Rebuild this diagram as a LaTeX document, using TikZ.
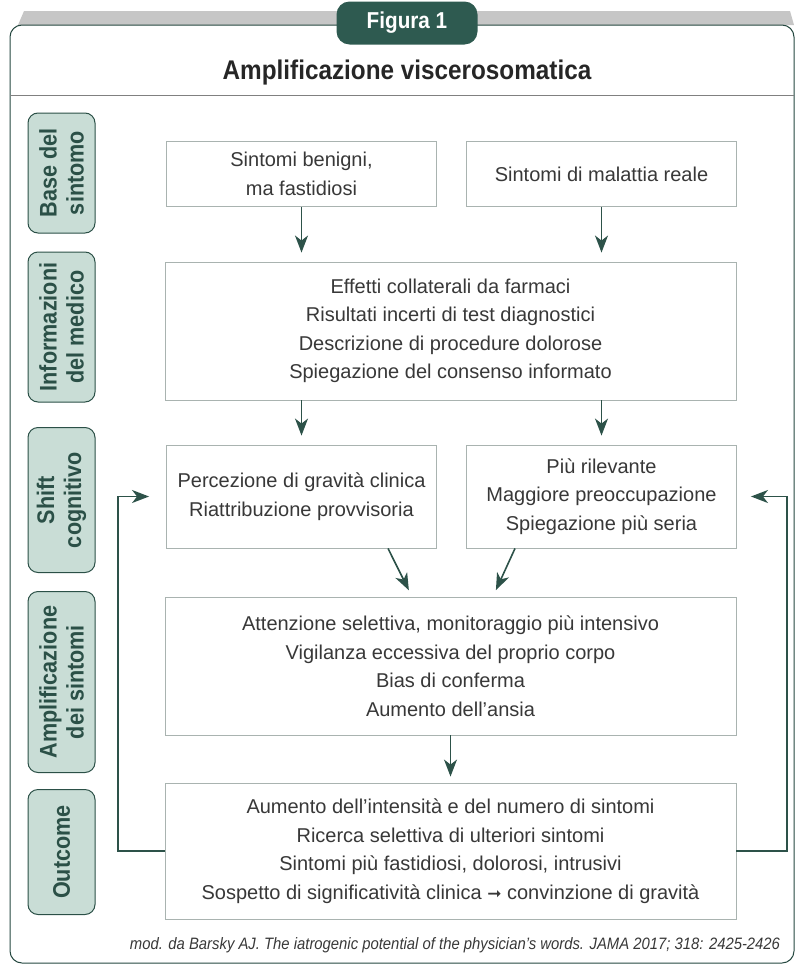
\documentclass[tikz,border=0pt]{standalone}
\usepackage{fontspec}
\setmainfont{Liberation Sans}
\newfontfamily\narrowfont{Liberation Sans}[FakeStretch=0.9]
\newfontfamily\arrfont{DejaVu Sans}
\usepackage{tikz}
\usetikzlibrary{arrows.meta,positioning,calc}

\definecolor{tabteal}{HTML}{2E5A50}
\definecolor{lblfill}{HTML}{C9DDD6}
\definecolor{lbltext}{HTML}{2B5047}
\definecolor{arrteal}{HTML}{2D5249}
\definecolor{boxline}{HTML}{A9B3B0}
\definecolor{txtgray}{HTML}{383838}

\tikzset{
  txtbox/.style={draw=boxline, line width=0.9pt, fill=white, align=center, text=txtgray,
    font=\fontsize{20}{28.5}\selectfont, inner sep=0pt},
  sidelbl/.style={draw=lbltext, line width=1pt, fill=lblfill, rounded corners=10pt, rotate=90,
    align=center, text=lbltext, font=\narrowfont\bfseries\fontsize{24}{27}\selectfont,
    minimum height=67pt, inner sep=0pt},
  arr/.style={arrteal, line width=1.6pt, -{Stealth[length=17pt,width=13pt,inset=5pt]}, shorten >=9pt},
  loop/.style={arrteal, line width=1.6pt, -{Stealth[length=17pt,width=13pt,inset=5pt]}}
}

\begin{document}
\begin{tikzpicture}[x=1pt, y=-1pt]
 \useasboundingbox (0,0) rectangle (796,969);

 %frame
 \fill[gray!45] (24,11) -- (790,11) -- (794,25) -- (18,25) -- cycle;
 \draw[tabteal!80!black, line width=1pt, rounded corners=12pt] (10,25) rectangle (794,963);
 \node[fill=tabteal, rounded corners=13pt, minimum width=141pt, minimum height=43pt, text=white,
   font=\narrowfont\bfseries\fontsize{23}{23}\selectfont] (tab) at (407,23) {Figura 1};
 \node[text=black!85, font=\narrowfont\bfseries\fontsize{27}{27}\selectfont] (title) at (407,73)
   {Amplificazione viscerosomatica};
 \draw[gray, line width=0.8pt] (10,95) -- (794,95);

 %side labels
 \foreach \y/\len/\name/\txt in {173/120/base/{Base del\\sintomo},
                                  327/150/info/{Informazioni\\del medico},
                                  500/145/shift/{Shift\\cognitivo},
                                  682/181/ampl/{Amplificazione\\dei sintomi},
                                  852/125/outc/{Outcome}} {
   \node[sidelbl, minimum width=\len pt] (\name) at (61.5,\y) {\txt};
 }

 %level 1
 \node[txtbox, minimum width=270pt, minimum height=65pt] (A) at (301.5,174) {Sintomi benigni,\\ma fastidiosi};
 \node[txtbox, minimum width=270pt, minimum height=65pt] (B) at (601.5,174) {Sintomi di malattia reale};

 %level 2
 \node[txtbox, minimum width=571pt, minimum height=138pt] (C) at (450.5,331)
   {Effetti collaterali da farmaci\\Risultati incerti di test diagnostici\\Descrizione di procedure dolorose\\Spiegazione del consenso informato};

 %level 3
 \node[txtbox, minimum width=270pt, minimum height=103pt] (D) at (301.5,496.5)
   {Percezione di gravità clinica\\Riattribuzione provvisoria};
 \node[txtbox, minimum width=270pt, minimum height=103pt] (E) at (601.5,496.5)
   {Più rilevante\\Maggiore preoccupazione\\Spiegazione più seria};

 %level 4
 \node[txtbox, minimum width=571pt, minimum height=138pt] (F) at (450.5,666)
   {Attenzione selettiva, monitoraggio più intensivo\\Vigilanza eccessiva del proprio corpo\\Bias di conferma\\Aumento dell'ansia};

 %level 5
 \node[txtbox, minimum width=571pt, minimum height=136pt] (G) at (450.5,851)
   {Aumento dell'intensità e del numero di sintomi\\Ricerca selettiva di ulteriori sintomi\\Sintomi più fastidiosi, dolorosi, intrusivi\\Sospetto di significatività clinica {\arrfont\fontsize{17}{17}\selectfont ➞} convinzione di gravità};

 %arrows
 \draw[arr] (A.south) -- (A.south |- C.north);
 \draw[arr] (B.south) -- (B.south |- C.north);
 \draw[arr] (D.north |- C.south) -- (D.north);
 \draw[arr] (E.north |- C.south) -- (E.north);
 \draw[arr, shorten >=7pt] ([xshift=86.5pt]D.south) -- ([xshift=-38.5pt]F.north);
 \draw[arr, shorten >=7pt] ([xshift=-86.5pt]E.south) -- ([xshift=42.5pt]F.north);
 \draw[arr, shorten >=6pt] (F.south) -- (G.north);

 %feedback
 \coordinate (loopL) at (118,0);
 \coordinate (loopR) at (787,0);
 \draw[loop] (G.west) -| (loopL |- D.west) -- ([xshift=-17pt]D.west);
 \draw[loop] (G.east) -| (loopR |- E.east) -- ([xshift=14pt]E.east);

 \node[text=txtgray, font=\narrowfont\itshape\fontsize{16.5}{16.5}\selectfont] (src) at (455,945)
   {mod. da Barsky AJ. The iatrogenic potential of the physician’s words. JAMA 2017; 318: 2425-2426};

\end{tikzpicture}
\end{document}
